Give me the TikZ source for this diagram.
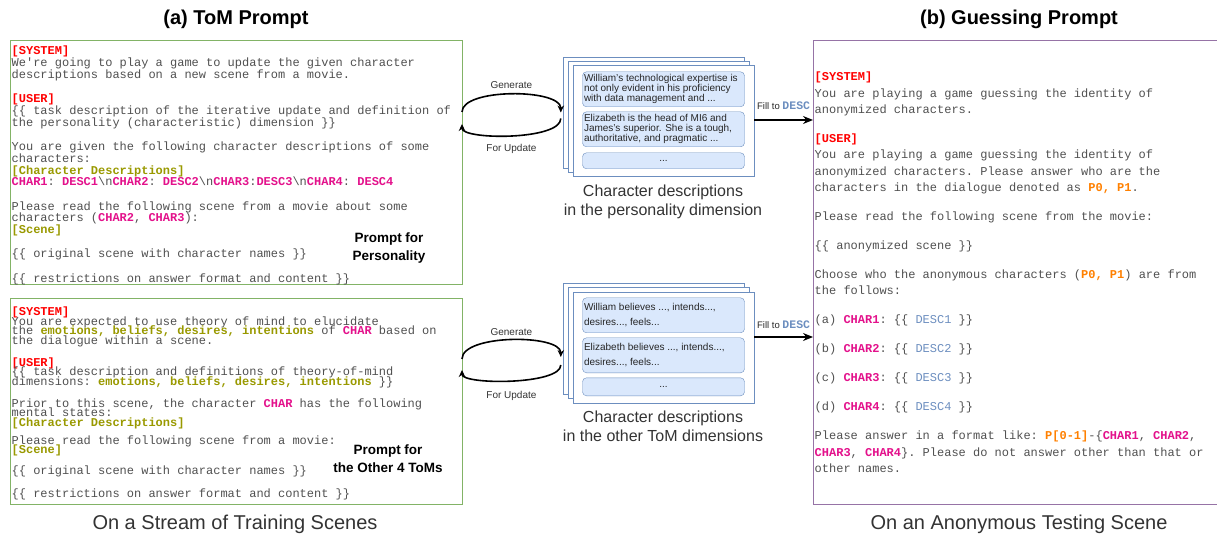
\documentclass[tikz,border=0pt]{standalone}
\usepackage{fontspec}
\setmainfont{Liberation Sans}
\setmonofont{Liberation Mono}
\usepackage{xcolor}
\usetikzlibrary{positioning,arrows.meta}

\definecolor{boxgreen}{HTML}{82B366}
\definecolor{boxpurple}{HTML}{9673A6}
\definecolor{cardline}{HTML}{6C8EBF}
\definecolor{cardfill}{HTML}{DAE8FC}
\definecolor{sysred}{HTML}{FF0000}
\definecolor{olivetxt}{HTML}{999900}
\definecolor{charpink}{HTML}{E3118B}
\definecolor{porange}{HTML}{FF8000}
\definecolor{descblue}{HTML}{6C8EBF}
\definecolor{bodygray}{HTML}{505050}
\definecolor{capgray}{HTML}{333333}

\newcommand{\roletag}[1]{\textcolor{sysred}{\textbf{#1}}}
\newcommand{\slottag}[1]{\textcolor{olivetxt}{\textbf{#1}}}
\newcommand{\chartag}[1]{\textcolor{charpink}{\textbf{#1}}}
\newcommand{\anontag}[1]{\textcolor{porange}{\textbf{#1}}}
\newcommand{\desctag}[1]{\textcolor{descblue}{#1}}
\newcommand{\tightlines}{\lineskiplimit=-30pt\relax}

\begin{document}
\begin{tikzpicture}[x=1pt,y=1pt,
	prompt/.style={draw=#1,line width=1pt,inner sep=0pt,outer sep=0pt},
	monotext/.style={anchor=base west,inner sep=0pt,text width=#1,align=flush left,text=bodygray},
	card/.style={draw=cardline,fill=white,minimum width=181pt,minimum height=111pt,inner sep=0pt},
	desc/.style={draw=cardline,fill=cardfill,rounded corners=4pt,text width=159pt,inner xsep=1.5pt,inner ysep=0pt,outer sep=0pt,align=flush left,text=black!85},
	cyc/.style={line width=1.6pt,-{Stealth[length=7pt,width=6.5pt]}},
	feed/.style={line width=1.6pt,-{Stealth[length=10pt,width=8pt]}},
	lbl/.style={font=\fontsize{10}{12}\selectfont,text=capgray},
	feedlbl/.style={font=\fontsize{9.5}{12}\selectfont,text=black!85,inner sep=2pt},
	boldlbl/.style={font=\bfseries\fontsize{13.5}{17.5}\selectfont,align=center},
	title/.style={font=\bfseries\fontsize{20}{24}\selectfont},
	caption/.style={font=\fontsize{20}{24}\selectfont,text=capgray},
	cardcap/.style={font=\fontsize{16}{19}\selectfont,align=center,text=capgray}]
\useasboundingbox (0,0) rectangle (1217,533);

\node[title] (titlea) at (236,514) {(a) ToM Prompt};
\node[title] (titleb) at (1019,514) {(b) Guessing Prompt};

\node[prompt=boxgreen,minimum width=452pt,minimum height=244pt] (tompers) at (236,370) {};
\node[prompt=boxgreen,minimum width=452pt,minimum height=205pt] (tomother) at (236,131.5) {};
\node[prompt=boxpurple,minimum width=406pt,minimum height=463pt] (guess) at (1016,260.5) {};

\node[monotext=450pt,font=\ttfamily\fontsize{12}{11.8}\selectfont\tightlines] (perstext) at (11.5,478) {
	\roletag{[SYSTEM]}\\
	We're going to play a game to update the given character\\
	descriptions based on a new scene from a movie.\\[12.4pt]
	\roletag{[USER]}\\
	\{\{ task description of the iterative update and definition of\\
	the personality (characteristic) dimension \}\}\\[12.4pt]
	You are given the following character descriptions of some\\
	characters:\\
	\slottag{[Character Descriptions]}\\
	\chartag{CHAR1}: \chartag{DESC1}\textbackslash n\chartag{CHAR2}: \chartag{DESC2}\textbackslash n\chartag{CHAR3}:\chartag{DESC3}\textbackslash n\chartag{CHAR4}: \chartag{DESC4}\\[12.4pt]
	Please read the following scene from a movie about some\\
	characters (\chartag{CHAR2}, \chartag{CHAR3}):\\
	\slottag{[Scene]}\\[12.4pt]
	\{\{ original scene with character names \}\}\\[12.4pt]
	\{\{ restrictions on answer format and content \}\}};
\node[boldlbl] (perslabel) at (389,285) {Prompt for\\Personality};

\node[monotext=450pt,font=\ttfamily\fontsize{12}{9.5}\selectfont\tightlines] (othertext) at (11.5,217) {
	\roletag{[SYSTEM]}\\
	You are expected to use theory of mind to elucidate\\
	the \slottag{emotions, beliefs, desires, intentions} of \chartag{CHAR} based on\\
	the dialogue within a scene.\\[12.5pt]
	\roletag{[USER]}\\
	\{\{ task description and definitions of theory-of-mind\\
	dimensions: \slottag{emotions, beliefs, desires, intentions} \}\}\\[12.5pt]
	Prior to this scene, the character \chartag{CHAR} has the following\\
	mental states:\\
	\slottag{[Character Descriptions]}\\[8.5pt]
	Please read the following scene from a movie:\\
	\slottag{[Scene]}\\[11.5pt]
	\{\{ original scene with character names \}\}\\[12.5pt]
	\{\{ restrictions on answer format and content \}\}};
\node[boldlbl] (otherlabel) at (388,74.5) {Prompt for\\the Other 4 ToMs};

\node[monotext=400pt,font=\ttfamily\fontsize{12}{16.3}\selectfont\tightlines] (guesstext) at (814.5,452) {
	\roletag{[SYSTEM]}\\
	You are playing a game guessing the identity of\\
	anonymized characters.\\[12.7pt]
	\roletag{[USER]}\\
	You are playing a game guessing the identity of\\
	anonymized characters. Please answer who are the\\
	characters in the dialogue denoted as \anontag{P0, P1}.\\[12.7pt]
	Please read the following scene from the movie:\\[12.7pt]
	\{\{ anonymized scene \}\}\\[12.7pt]
	Choose who the anonymous characters (\anontag{P0, P1}) are from\\
	the follows:\\[12.7pt]
	(a) \chartag{CHAR1}: \{\{ \desctag{DESC1} \}\}\\[12.7pt]
	(b) \chartag{CHAR2}: \{\{ \desctag{DESC2} \}\}\\[12.7pt]
	(c) \chartag{CHAR3}: \{\{ \desctag{DESC3} \}\}\\[12.7pt]
	(d) \chartag{CHAR4}: \{\{ \desctag{DESC4} \}\}\\[12.7pt]
	Please answer in a format like: \anontag{P[0-1]}-\{\chartag{CHAR1}, \chartag{CHAR2},\\
	\chartag{CHAR3}, \chartag{CHAR4}\}. Please do not answer other than that or\\
	other names.};

\node[card] (persback) at (653.5,420.5) {};
\node[card] (persmid) at ([shift={(5,-4)}]persback) {};
\node[card] (persfront) at ([shift={(5,-4)}]persmid) {};
\node[desc,font=\fontsize{10}{10}\selectfont,minimum height=35pt,below=7pt of persfront.north] (persd1) {William's technological expertise is\\not only evident in his proficiency\\with data management and ...};
\node[desc,font=\fontsize{10}{10}\selectfont,minimum height=35pt,below=5pt of persd1] (persd2) {Elizabeth is the head of MI6 and\\James's superior. She is a tough,\\authoritative, and pragmatic ...};
\node[desc,font=\fontsize{10}{10}\selectfont,minimum height=16pt,align=center,below=6pt of persd2] (persd3) {...};
\node[cardcap] (perscap) at (663,331.5) {Character descriptions\\in the personality dimension};

\node[card] (othback) at (653.5,194.5) {};
\node[card] (othmid) at ([shift={(5,-4.5)}]othback) {};
\node[card] (othfront) at ([shift={(5,-4.5)}]othmid) {};
\node[desc,font=\fontsize{10}{15}\selectfont,minimum height=35pt,below=6pt of othfront.north] (othd1) {William believes ..., intends...,\\desires..., feels...};
\node[desc,font=\fontsize{10}{15}\selectfont,minimum height=35pt,below=5pt of othd1] (othd2) {Elizabeth believes ..., intends...,\\desires..., feels...};
\node[desc,font=\fontsize{10}{10}\selectfont,minimum height=18pt,align=center,below=5pt of othd2] (othd3) {...};
\node[cardcap] (othcap) at (663,106.5) {Character descriptions\\in the other ToM dimensions};

\draw[cyc] ([yshift=51pt]tompers.east) .. controls +(0,24) and +(0,24) .. ([xshift=-2pt]persback.west) node[midway,above=1.6pt,lbl] (persgen) {Generate};
\draw[cyc] ([xshift=-2pt,yshift=-6pt]persback.west) .. controls +(0,-22) and +(0,-16) .. ([yshift=39pt]tompers.east) node[midway,below=4.5pt,lbl] (persupd) {For Update};
\draw[cyc] ([yshift=42.5pt]tomother.east) .. controls +(0,25) and +(0,23) .. ([xshift=-2pt,yshift=-18.5pt]othback.west) node[midway,above=0pt,lbl] (othgen) {Generate};
\draw[cyc] ([xshift=-2pt,yshift=-26.5pt]othback.west) .. controls +(0,-20) and +(0,-15) .. ([yshift=31.5pt]tomother.east) node[midway,below=6pt,lbl] (othupd) {For Update};

\coordinate (persout) at ([yshift=0.5pt]persfront.east);
\coordinate (othout) at ([yshift=10.5pt]othfront.east);
\draw[feed] (persout) -- (persout -| guess.west) node[midway,above=8pt,feedlbl] (persfill) {Fill to \textcolor{descblue}{\ttfamily\bfseries\fontsize{11.5}{12}\selectfont DESC}};
\draw[feed] (othout) -- (othout -| guess.west) node[midway,above=6pt,feedlbl] (othfill) {Fill to \textcolor{descblue}{\ttfamily\bfseries\fontsize{11.5}{12}\selectfont DESC}};

\node[caption] (streamcap) at (235,8.2) {On a Stream of Training Scenes};
\node[caption] (testcap) at (1019,8.2) {On an Anonymous Testing Scene};
\end{tikzpicture}
\end{document}
